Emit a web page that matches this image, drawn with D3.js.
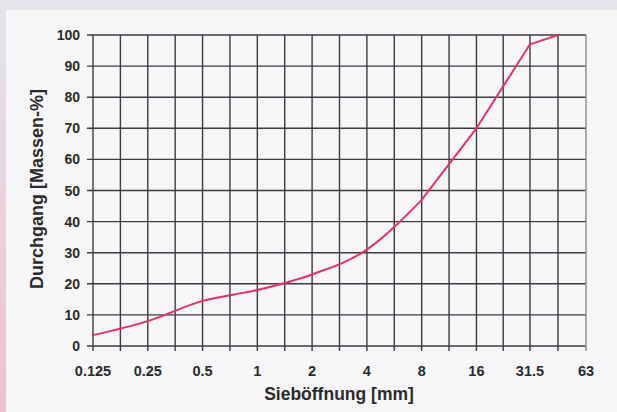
<!DOCTYPE html>
<html>
<head>
<meta charset="utf-8">
<script src="https://cdn.jsdelivr.net/npm/d3@7"></script>
<style>
  body { margin: 0; background: #e6e6ea; }
  text { font-family: "Liberation Sans", Arial, sans-serif; font-weight: bold; fill: #2b2b2b; }
</style>
</head>
<body>
<div id="chart"></div>
<script>
// size of the picture
var w = 617;
var h = 412;

// sieve sizes (mm) shown on the x axis
var sieves = [0.125, 0.25, 0.5, 1, 2, 4, 8, 16, 31.5, 63];
var sieveLabels = ["0.125", "0.25", "0.5", "1", "2", "4", "8", "16", "31.5", "63"];

// grading curve: sieve size and passing percentage
var curveSizes = [0.125, 0.25, 0.5, 1, 2, 4, 8, 16, 31.5, 45];
var curvePassing = [3.5, 8, 14.5, 18, 23, 31, 47, 70, 97, 100];

var yTicks = [0, 10, 20, 30, 40, 50, 60, 70, 80, 90, 100];

var svg = d3.select("#chart").append("svg")
  .attr("width", w)
  .attr("height", h);

// background panel with a pink strip on the left
var grad = svg.append("defs").append("linearGradient")
  .attr("id", "strip")
  .attr("x1", 0).attr("y1", 0).attr("x2", 0).attr("y2", 1);
grad.append("stop").attr("offset", "0%").attr("stop-color", "#e4e4ea");
grad.append("stop").attr("offset", "100%").attr("stop-color", "#f0bfd0");

svg.append("rect").attr("width", w).attr("height", h).attr("fill", "#e6e6ea");
svg.append("rect").attr("x", 0).attr("y", 10).attr("width", 6).attr("height", h - 10)
  .attr("fill", "url(#strip)");
svg.append("rect").attr("x", 6).attr("y", 10).attr("width", w - 6).attr("height", h - 10)
  .attr("fill", "#f7f7f9");

// scales: log scale for the sieve sizes (63 sits on the 64 step)
var xScale = d3.scaleLog().base(2)
  .domain([0.125, 64])
  .range([93, 586]);

var yScale = d3.scaleLinear()
  .domain([0, 100])
  .range([346, 35]);

function sx(d) { return xScale(d === 63 ? 64 : d); }

// grid positions: each sieve plus halfway (log) between them
var gridX = [];
sieves.forEach(function(d, i) {
  gridX.push(sx(d));
  if (i < sieves.length - 1) {
    gridX.push((sx(d) + sx(sieves[i + 1])) / 2);
  }
});

// horizontal grid lines
svg.selectAll(".hgrid")
  .data(yTicks)
  .enter()
  .append("line")
  .attr("x1", 87)
  .attr("x2", 586)
  .attr("y1", function(d) { return yScale(d); })
  .attr("y2", function(d) { return yScale(d); })
  .attr("stroke", "#3e3a40")
  .attr("stroke-width", 1.4);

// vertical grid lines
svg.selectAll(".vgrid")
  .data(gridX)
  .enter()
  .append("line")
  .attr("x1", function(d) { return d; })
  .attr("x2", function(d) { return d; })
  .attr("y1", 35)
  .attr("y2", 351)
  .attr("stroke", function(d, i) { return i === gridX.length - 1 ? "#8a8a90" : "#3e3a40"; })
  .attr("stroke-width", 1.4);

// y axis labels
svg.selectAll(".ylab")
  .data(yTicks)
  .enter()
  .append("text")
  .attr("x", 80)
  .attr("y", function(d) { return yScale(d) + 5; })
  .attr("text-anchor", "end")
  .attr("font-size", "14px")
  .text(function(d) { return d; });

// x axis labels
svg.selectAll(".xlab")
  .data(sieves)
  .enter()
  .append("text")
  .attr("x", function(d) { return sx(d); })
  .attr("y", 376)
  .attr("text-anchor", "middle")
  .attr("font-size", "14.5px")
  .text(function(d, i) { return sieveLabels[i]; });

// grading line: smooth up to 8 mm, straight above
var points = curveSizes.map(function(d, i) { return { size: d, value: curvePassing[i] }; });
var split = curveSizes.indexOf(8);

var smooth = d3.line()
  .x(function(d) { return xScale(d.size); })
  .y(function(d) { return yScale(d.value); })
  .curve(d3.curveMonotoneX);

var straight = d3.line()
  .x(function(d) { return xScale(d.size); })
  .y(function(d) { return yScale(d.value); });

svg.append("path")
  .datum(points.slice(0, split + 1))
  .attr("fill", "none")
  .attr("stroke", "#ea2f68")
  .attr("stroke-width", 2)
  .attr("d", smooth);

svg.append("path")
  .datum(points.slice(split))
  .attr("fill", "none")
  .attr("stroke", "#ea2f68")
  .attr("stroke-width", 2)
  .attr("stroke-linejoin", "round")
  .attr("d", straight);

// axis titles
svg.append("text")
  .attr("x", 339)
  .attr("y", 400)
  .attr("text-anchor", "middle")
  .attr("font-size", "17.5px")
  .text("Sieböffnung [mm]");

svg.append("text")
  .attr("transform", "translate(43,189) rotate(-90)")
  .attr("text-anchor", "middle")
  .attr("font-size", "18px")
  .text("Durchgang [Massen-%]");
</script>
</body>
</html>
